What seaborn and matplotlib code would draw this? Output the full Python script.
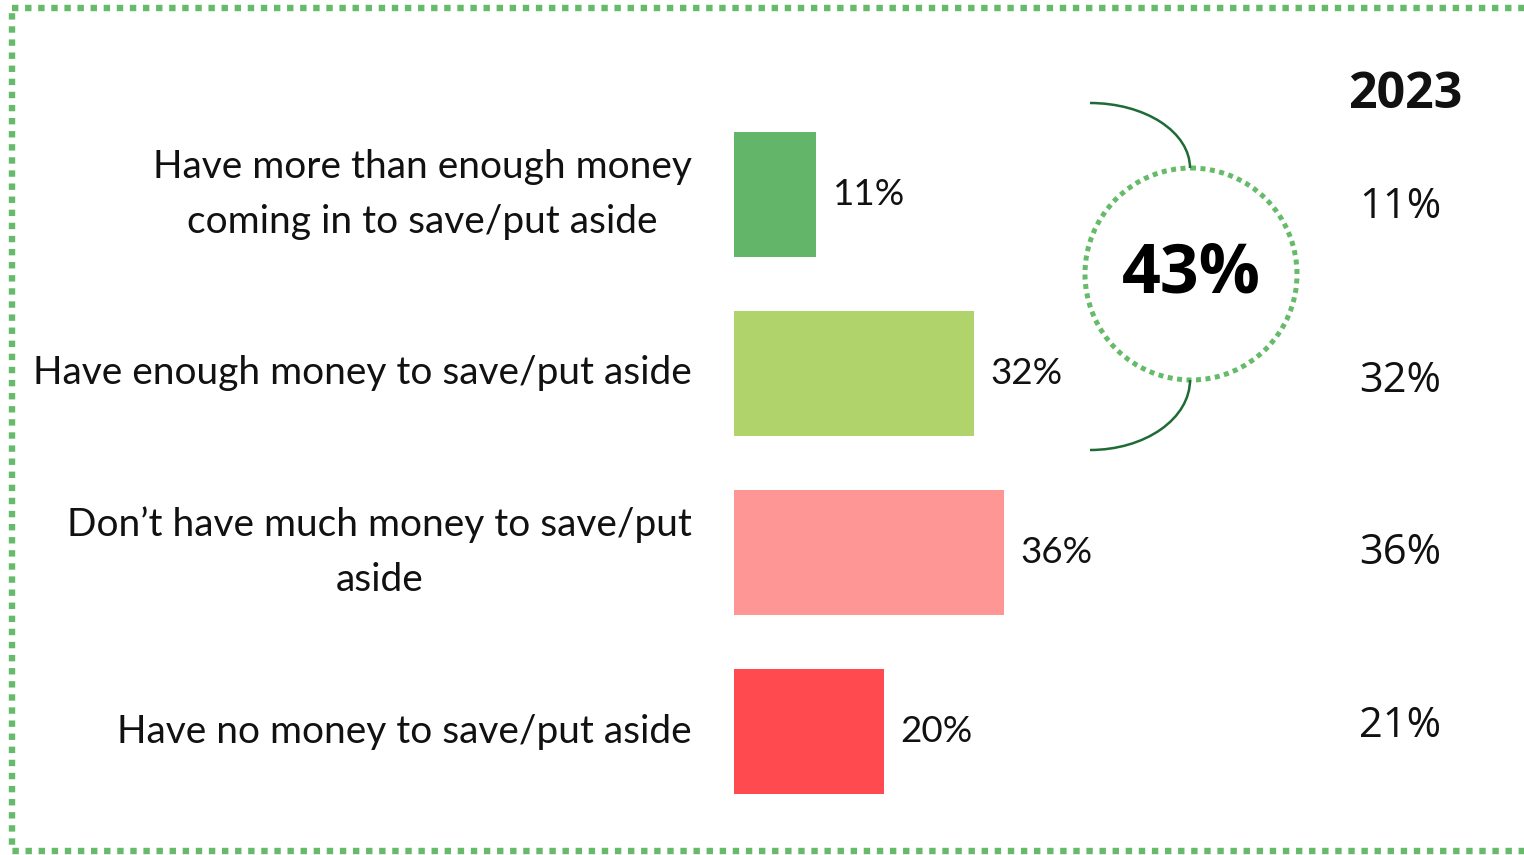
import matplotlib
matplotlib.use("Agg")
import matplotlib.pyplot as plt
import seaborn as sns
import pandas as pd
import numpy as np
from matplotlib.patches import Circle, Arc, Rectangle

# Survey responses: ability to save / put money aside
categories = [
    "Have more than enough money\ncoming in to save/put aside",
    "Have enough money to save/put aside",
    "Don\u2019t have much money to save/put\naside",
    "Have no money to save/put aside",
]
values = [11, 32, 36, 20]
values_2023 = [11, 32, 36, 21]
combined_label = "43%"
year_label = "2023"
bar_colors = ["#63B56A", "#B0D36C", "#FF9696", "#FF4A50"]

sns.set_theme(style="white")
plt.rcParams["font.family"] = ["Lato", "DejaVu Sans"]

W, H = 1524, 855
fig = plt.figure(figsize=(W / 100, H / 100), dpi=100)

# Main axes spans the whole canvas; 7.5 px per percentage point
ax = fig.add_axes([0, 0, 1, 1])
x0_px, px_per_pct = 734, 7.5
row0_px, row_step_px = 194.5, 179
ax.set_xlim(-x0_px / px_per_pct, (W - x0_px) / px_per_pct)

df = pd.DataFrame({"category": categories, "value": values})
sns.barplot(data=df, x="value", y="category", hue="category", order=categories,
            palette=bar_colors, width=0.7, legend=False, ax=ax,
            saturation=1, edgecolor="none")
ax.set_ylim((H - row0_px) / row_step_px, -row0_px / row_step_px)
ax.set_axis_off()

# Category labels and value labels
for i, (cat, v) in enumerate(zip(categories, values)):
    ax.text(-5.6, i, cat, ha="right", va="center", multialignment="center",
            fontsize=28, color="#111111", linespacing=1.66)
    ax.text(v + 2.2, i, f"{v}%", ha="left", va="center", fontsize=26.5,
            color="#111111")

# 2023 comparison column
col_x = (1400 - x0_px) / px_per_pct
offsets = [0.07, 0.04, 0.0, -0.03]
for i, (v, off) in enumerate(zip(values_2023, offsets)):
    ax.text(col_x, i + off, f"{v}%", ha="center", va="center", fontsize=30,
            color="#111111", family=["Open Sans", "DejaVu Sans"])
ax.text((1405 - x0_px) / px_per_pct, (95 - row0_px) / row_step_px, year_label,
        ha="center", va="center", fontsize=36, fontweight="bold",
        color="#111111", family=["Open Sans", "DejaVu Sans"])

# Pixel-space overlay for the bracket and frame decorations
ov = fig.add_axes([0, 0, 1, 1], facecolor="none")
ov.set_xlim(0, W)
ov.set_ylim(H, 0)
ov.set_axis_off()

green = "#66BB6A"
cx, cy, r = 1191, 274, 106
ov.add_patch(Circle((cx, cy), r, fill=False, edgecolor=green, linewidth=3.6,
                    linestyle=(0, (1, 0.9))))
dark = "#1E6B35"
ov.add_patch(Arc((1090, 168), 200, 130, theta1=270, theta2=360,
                 edgecolor=dark, linewidth=1.8))
ov.add_patch(Arc((1090, 380), 200, 140, theta1=0, theta2=90,
                 edgecolor=dark, linewidth=1.8))
ov.text(cx, cy, combined_label, ha="center", va="center", fontsize=49,
        fontweight="bold", color="#000000", family=["Open Sans", "DejaVu Sans"])

ov.add_patch(Rectangle((12, 8), 1530, 843, fill=False, edgecolor=green,
                       linewidth=4.6, linestyle=(0, (1, 1.05)), clip_on=False))

fig.savefig("out.png", dpi=100)
